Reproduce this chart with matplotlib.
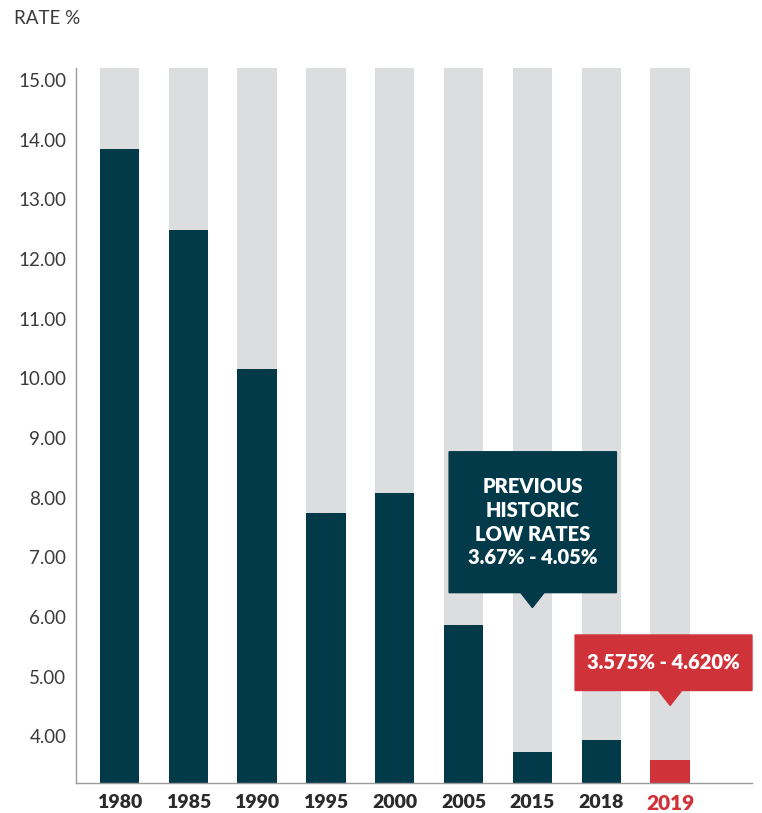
import matplotlib.pyplot as plt
from matplotlib.patches import Polygon

# data
years = ["1980", "1985", "1990", "1995", "2000", "2005", "2015", "2018", "2019"]
rates = [13.84, 12.49, 10.16, 7.75, 8.08, 5.87, 3.74, 3.94, 3.61]
yticks = [4, 5, 6, 7, 8, 9, 10, 11, 12, 13, 14, 15]

DARK = "#023a4a"
GREY = "#dcdddf"
RED = "#d0323a"
TXT = "#2b2b2b"

plt.rcParams["font.family"] = ["Lato", "DejaVu Sans"]

fig = plt.figure(figsize=(7.62, 8.13), dpi=100)
ax = fig.add_axes([76 / 762, 30 / 813, 676 / 762, 715 / 813])

ymin, ymax = 3.22, 15.2
x = list(range(len(years)))
colors = [DARK] * (len(years) - 1) + [RED]

# grey background columns, then the actual rates
ax.bar(x, [ymax - ymin] * len(x), bottom=ymin, width=0.57, color=GREY, zorder=1)
ax.bar(x, [r - ymin for r in rates], bottom=ymin, width=0.57, color=colors, zorder=2)

ax.set_xlim(-0.63, 9.19)
ax.set_ylim(ymin, ymax)
ax.set_yticks(yticks)
ax.set_yticklabels([f"{v:.2f}" for v in yticks], fontsize=13.5, color="#3a3a3a")
ax.set_xticks(x)
ax.set_xticklabels(years, fontsize=14, fontweight="heavy", color=TXT)
ax.get_xticklabels()[-1].set_color(RED)
ax.get_xticklabels()[-1].set_fontsize(15)
ax.tick_params(length=0)
ax.tick_params(axis="y", pad=7)
ax.tick_params(axis="x", pad=8)
for s in ["top", "right"]:
    ax.spines[s].set_visible(False)
for s in ["left", "bottom"]:
    ax.spines[s].set_color("#9a9a9a")
    ax.spines[s].set_linewidth(1)


def callout(x0, x1, y0, y1, tipx, tipy, color, text, size):
    hw = 0.17
    pts = [(x0, y1), (x1, y1), (x1, y0), (tipx + hw, y0), (tipx, tipy),
           (tipx - hw, y0), (x0, y0)]
    ax.add_patch(Polygon(pts, closed=True, color=color, zorder=5, clip_on=False))
    ax.text((x0 + x1) / 2, (y0 + y1) / 2, text, color="white", fontsize=size,
            fontweight="heavy", ha="center", va="center", linespacing=1.3,
            zorder=6, clip_on=False)


callout(4.79, 7.22, 6.41, 8.77, 6, 6.16, DARK,
        "PREVIOUS\nHISTORIC\nLOW RATES\n3.67% - 4.05%", 14.5)
callout(6.62, 9.19, 4.77, 5.70, 8, 4.52, RED, "3.575% - 4.620%", 14.5)

fig.text(14 / 762, 1 - 18 / 813, "RATE %", fontsize=13.5, color="#3a3a3a",
         ha="left", va="center")

fig.savefig("out.png", dpi=100)
